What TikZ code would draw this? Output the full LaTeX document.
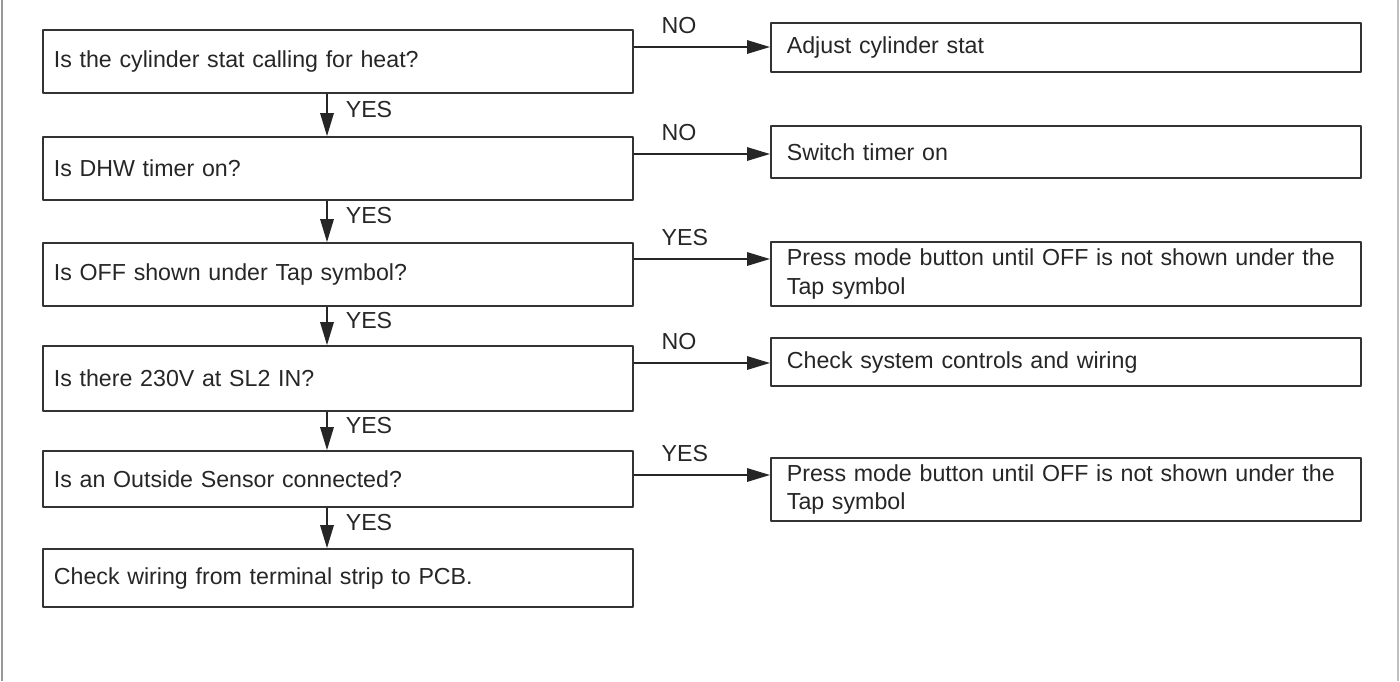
\documentclass[tikz,border=0pt]{standalone}
\usepackage{fontspec}
\setmainfont{Liberation Sans}
\usetikzlibrary{arrows.meta}
\begin{document}
\begin{tikzpicture}[x=0.02cm, y=-0.02cm, line join=round, font=\fontsize{13.2}{16}\selectfont,
		>={Triangle[length=0.46cm,width=0.27cm]},
		qbox/.style={draw=black!80, line width=1pt, text=black!85, anchor=west, align=left,
			minimum width=11.8cm, inner xsep=0.22cm, text width=11.36cm},
		abox/.style={qbox, inner xsep=0.32cm, text width=11.16cm},
		conn/.style={->, line width=0.9pt, draw=black!85},
		ylbl/.style={pos=0.56, anchor=base west, xshift=0.36cm, inner sep=0, text=black!85},
		hlbl/.style={pos=0.2, anchor=base west, yshift=0.28cm, inner sep=0, text=black!85}]
	\useasboundingbox (0,0) rectangle (1400,681);
	% frame
	\draw[gray!80, line width=1pt] (2,0) -- (2,681);
	\draw[gray!50, line width=1pt] (1398,0) -- (1398,681);
	% questions
	\node[qbox, minimum height=1.26cm] (q1) at (42,61.5) {Is the cylinder stat calling for heat?};
	\node[qbox, minimum height=1.26cm] (q2) at (42,168.5) {Is DHW timer on?};
	\node[qbox, minimum height=1.26cm] (q3) at (42,274.5) {Is OFF shown under Tap symbol?};
	\node[qbox, minimum height=1.30cm] (q4) at (42,378.5) {Is there 230V at SL2 IN?};
	\node[qbox, minimum height=1.12cm] (q5) at (42,479) {Is an Outside Sensor connected?};
	\node[qbox, minimum height=1.16cm] (q6) at (42,578) {Check wiring from terminal strip to PCB.};
	% actions
	\node[abox, minimum height=0.98cm] (r1) at (770,47.5) {Adjust cylinder stat};
	\node[abox, minimum height=1.04cm] (r2) at (770,152) {Switch timer on};
	\node[abox, minimum height=1.28cm] (r3) at (770,274) {Press mode button until OFF is not shown under the\\Tap symbol};
	\node[abox, minimum height=0.96cm] (r4) at (770,362) {Check system controls and wiring};
	\node[abox, minimum height=1.26cm] (r5) at (770,489.5) {Press mode button until OFF is not shown under the\\Tap symbol};
	% YES chain
	\coordinate (ax) at (327,0);
	\draw[conn] (q1.south -| ax) -- node[ylbl] {YES} (q2.north -| ax);
	\draw[conn] (q2.south -| ax) -- node[ylbl] {YES} (q3.north -| ax);
	\draw[conn] (q3.south -| ax) -- node[ylbl] {YES} (q4.north -| ax);
	\draw[conn] (q4.south -| ax) -- node[ylbl] {YES} (q5.north -| ax);
	\draw[conn] (q5.south -| ax) -- node[ylbl] {YES} (q6.north -| ax);
	% side branches
	\coordinate (h1) at (0,47);
	\coordinate (h2) at (0,154);
	\coordinate (h3) at (0,259);
	\coordinate (h4) at (0,363);
	\coordinate (h5) at (0,475);
	\draw[conn] (q1.east |- h1) -- node[hlbl] {NO} (r1.west |- h1);
	\draw[conn] (q2.east |- h2) -- node[hlbl] {NO} (r2.west |- h2);
	\draw[conn] (q3.east |- h3) -- node[hlbl] {YES} (r3.west |- h3);
	\draw[conn] (q4.east |- h4) -- node[hlbl] {NO} (r4.west |- h4);
	\draw[conn] (q5.east |- h5) -- node[hlbl] {YES} (r5.west |- h5);
\end{tikzpicture}
\end{document}
